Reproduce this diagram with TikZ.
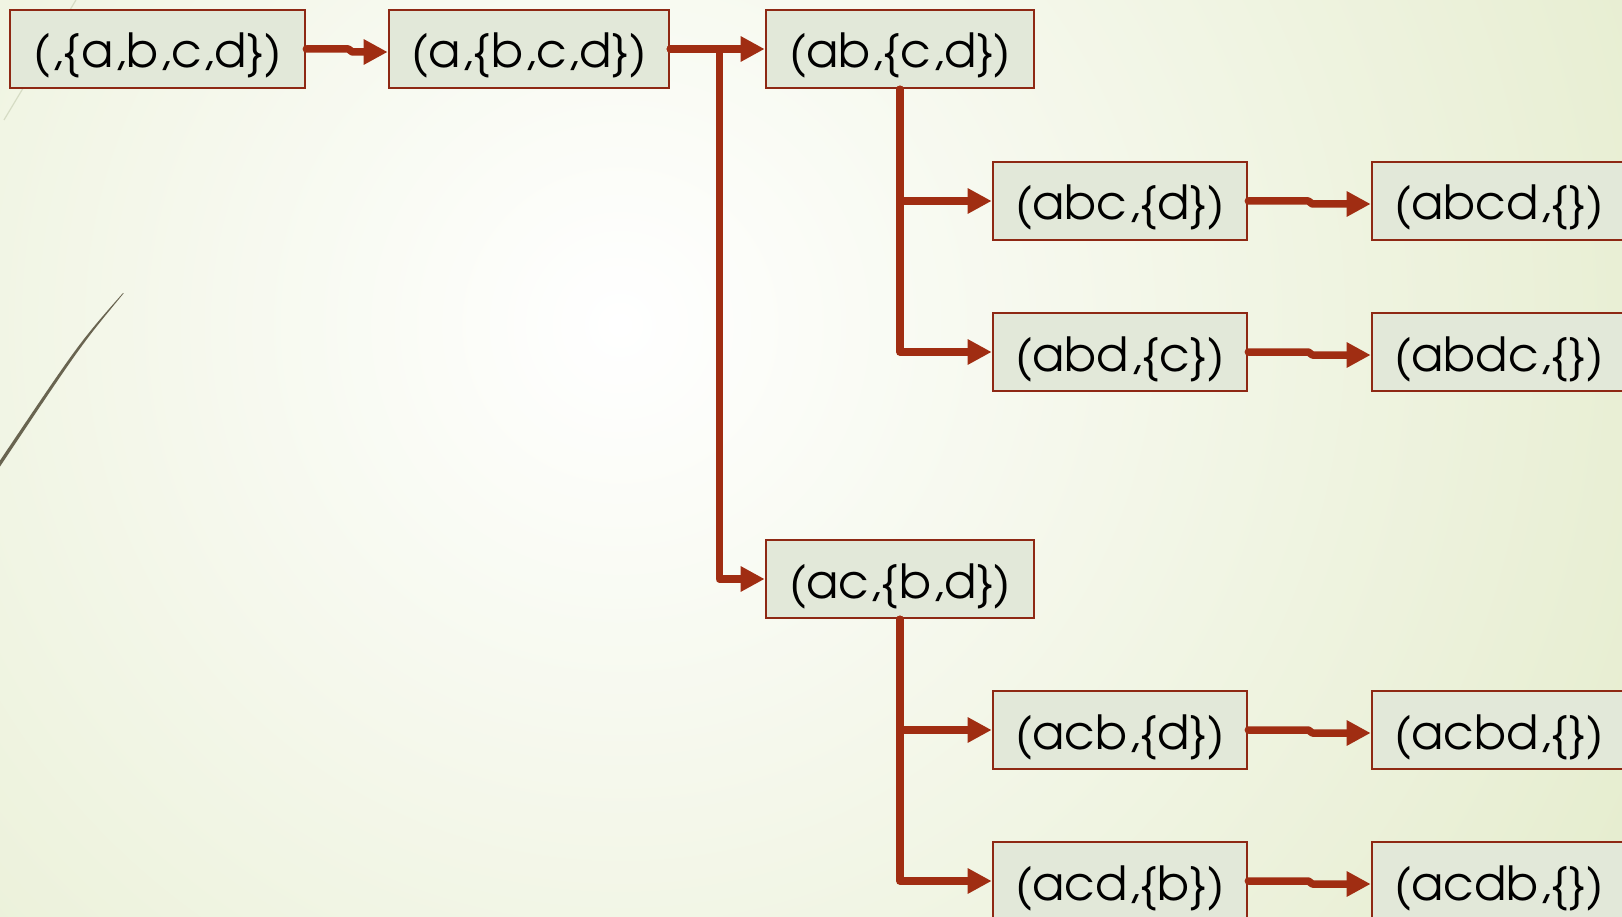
\documentclass[tikz,border=0pt]{standalone}
\usepackage{fontspec}
\setmainfont{texgyreadventor-regular.otf}
\usetikzlibrary{arrows.meta}
\definecolor{bgedge}{RGB}{223,232,194}
\definecolor{boxfill}{RGB}{226,232,217}
\definecolor{boxline}{RGB}{142,40,20}
\definecolor{conncol}{RGB}{160,45,18}
\definecolor{darkline}{RGB}{105,100,80}
\definecolor{faintline}{RGB}{214,220,196}
\tikzset{
  stbox/.style={draw=boxline, line width=2.7pt, fill=boxfill, inner sep=0pt,
    text height=58pt, text depth=20pt, align=center,
    font=\fontsize{47}{50}\selectfont},
  conn/.style={draw=conncol, line width=7.5pt, line cap=round, line join=round,
    -{Triangle[length=24pt,width=24pt]}},
}
\begin{document}
\begin{tikzpicture}[x=1pt,y=-1pt]
\useasboundingbox (0,0) rectangle (1622,917);
\begin{scope}
\clip (0,0) rectangle (1622,917);
\fill[bgedge] (0,0) rectangle (1622,917);
\shade[inner color=white, outer color=bgedge] (620,325) circle (1450);
\draw[faintline, line width=1.2pt] (76,0) -- (4,120);
\fill[darkline] (123,293) .. controls (79,343) .. (-1,462) -- (-1,468)
  .. controls (81,345) .. (123.6,293.4) -- cycle;
\end{scope}
% nodes
\node[stbox, minimum width=295pt] (s0) at (157.5,49) {(,\{a,b,c,d\})};
\node[stbox, minimum width=280pt] (s1) at (529,49) {(a,\{b,c,d\})};
\node[stbox, minimum width=268pt] (ab) at (900,49) {(ab,\{c,d\})};
\node[stbox, minimum width=254pt] (abc) at (1120,201) {(abc,\{d\})};
\node[stbox, minimum width=254pt] (abd) at (1120,352) {(abd,\{c\})};
\node[stbox, minimum width=254pt] (abcd) at (1499,201) {(abcd,\{\})};
\node[stbox, minimum width=254pt] (abdc) at (1499,352) {(abdc,\{\})};
\node[stbox, minimum width=268pt] (ac) at (900,579) {(ac,\{b,d\})};
\node[stbox, minimum width=254pt] (acb) at (1120,730) {(acb,\{d\})};
\node[stbox, minimum width=254pt] (acd) at (1120,881) {(acd,\{b\})};
\node[stbox, minimum width=254pt] (acbd) at (1499,730) {(acbd,\{\})};
\node[stbox, minimum width=254pt] (acdb) at (1499,881) {(acdb,\{\})};
% connectors
\draw[conn] (s0.east) -- ++(42,0) -- ++(4,3) -- ([yshift=-3pt]s1.west);
\draw[conn] (s1.east) -- (ab.west);
\draw[conn] (s1.east) -- ++(49,0) |- (ac.west);
\draw[conn] (ab.south) |- (abc.west);
\draw[conn] (ab.south) |- (abd.west);
\draw[conn] (ac.south) |- (acb.west);
\draw[conn] (ac.south) |- (acd.west);
\draw[conn] (abc.east) -- ++(60,0) -- ++(4,3) -- ([yshift=-3pt]abcd.west);
\draw[conn] (abd.east) -- ++(60,0) -- ++(4,3) -- ([yshift=-3pt]abdc.west);
\draw[conn] (acb.east) -- ++(60,0) -- ++(4,3) -- ([yshift=-3pt]acbd.west);
\draw[conn] (acd.east) -- ++(60,0) -- ++(4,3) -- ([yshift=-3pt]acdb.west);
\end{tikzpicture}
\end{document}
